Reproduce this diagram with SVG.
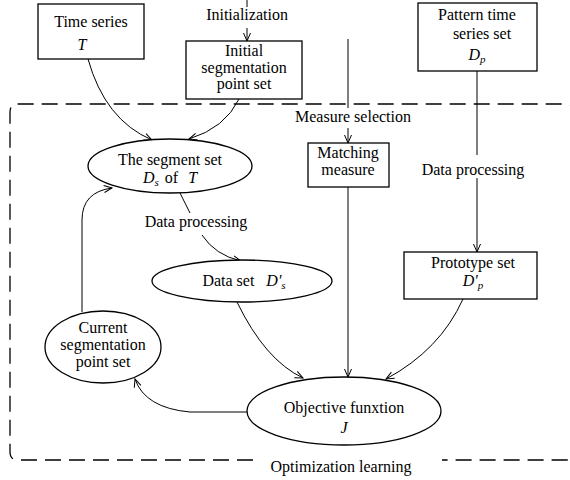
<svg xmlns="http://www.w3.org/2000/svg" width="570" height="480" viewBox="0 0 570 480" font-family="'Liberation Serif', 'Times New Roman', 'DejaVu Serif', serif">
<defs>
<marker id="arr" markerWidth="10" markerHeight="10" refX="9" refY="5" orient="auto" markerUnits="userSpaceOnUse">
<path d="M1,1.5 L9,5 L1,8.5" fill="none" stroke="#000" stroke-width="1"/>
</marker>
</defs>
<style>
text{font-family:'Liberation Serif','Times New Roman','DejaVu Serif',serif;font-size:16px;fill:#000;text-anchor:middle}
.i{font-style:italic}
.sub{font-size:11px;font-style:italic}
.box{fill:#fff;stroke:#000;stroke-width:1.3}
.c{fill:none;stroke:#000;stroke-width:1}
.ca{fill:none;stroke:#000;stroke-width:1;marker-end:url(#arr)}
.dash{fill:none;stroke:#000;stroke-width:1.3;stroke-dasharray:16 8}
</style>
<rect width="570" height="480" fill="#fff"/>
<g id="frame">
<path class="dash" d="M253,460 L18,460 Q10,460 10,452 L10,112 Q10,104 18,104 L566,104 Q574,104 574,112 L574,452 Q574,460 566,460 L442,460"/>
<text x="341" y="472">Optimization learning</text>
</g>
<g id="connectors">
<line class="c" x1="247" y1="0" x2="247" y2="7"/>
<text x="247" y="20">Initialization</text>
<line class="ca" x1="247" y1="28" x2="247" y2="41"/>
<path class="ca" d="M88,59 Q105,120 152,140"/>
<path class="ca" d="M239,99 Q225,128 189,139"/>
<line class="c" x1="348" y1="39" x2="348" y2="108"/>
<text x="353" y="122">Measure selection</text>
<line class="ca" x1="348" y1="128" x2="348" y2="143"/>
<line class="ca" x1="348" y1="187" x2="348" y2="377"/>
<line class="c" x1="477" y1="71" x2="477" y2="155"/>
<text x="473" y="175">Data processing</text>
<line class="ca" x1="477" y1="178" x2="477" y2="252"/>
<path class="c" d="M180,193 L190,213"/>
<text x="196" y="227">Data processing</text>
<path class="ca" d="M202,235 Q215,255 241,261"/>
<path class="ca" d="M237,302 Q265,360 303,378"/>
<path class="ca" d="M463,299 Q440,350 386,379"/>
<path class="ca" d="M247,412 L190,412 Q145,408 135,379"/>
<path class="ca" d="M82,312 L82,220 Q82,192 112,188"/>
</g>
<g id="time-series">
<rect class="box" x="38" y="4" width="106" height="55"/>
<text x="91" y="27">Time series</text>
<text class="i" x="82" y="50">T</text>
</g>
<g id="initial-seg">
<rect class="box" x="186" y="41" width="116" height="58"/>
<text x="244" y="56">Initial</text>
<text x="244" y="73">segmentation</text>
<text x="244" y="89">point set</text>
</g>
<g id="pattern">
<rect class="box" x="418" y="3" width="119" height="68"/>
<text x="477" y="20">Pattern time</text>
<text x="482" y="39">series set</text>
<text x="477" y="60"><tspan class="i">D</tspan><tspan class="sub" dy="3">p</tspan></text>
</g>
<g id="segment-set">
<ellipse class="box" cx="170" cy="166" rx="82" ry="27"/>
<text x="170" y="165">The segment set</text>
<text x="170" y="183"><tspan class="i">D</tspan><tspan class="sub" dy="3">s</tspan><tspan dy="-3" dx="6">of</tspan><tspan class="i" dx="10">T</tspan></text>
</g>
<g id="matching">
<rect class="box" x="308" y="143" width="81" height="44"/>
<text x="348" y="158">Matching</text>
<text x="348" y="175">measure</text>
</g>
<g id="data-set">
<ellipse class="box" cx="242" cy="281" rx="90" ry="21"/>
<text x="244" y="286">Data set<tspan class="i" dx="12">D'</tspan><tspan class="sub" dy="3">s</tspan></text>
</g>
<g id="prototype">
<rect class="box" x="404" y="252" width="133" height="47"/>
<text x="473" y="268">Prototype set</text>
<text x="473" y="286"><tspan class="i">D'</tspan><tspan class="sub" dy="3">p</tspan></text>
</g>
<g id="current">
<ellipse class="box" cx="103" cy="347" rx="58" ry="36"/>
<text x="103" y="333">Current</text>
<text x="103" y="350">segmentation</text>
<text x="103" y="367">point set</text>
</g>
<g id="objective">
<ellipse class="box" cx="344" cy="411" rx="97" ry="34"/>
<text x="344" y="413">Objective funxtion</text>
<text class="i" x="344" y="433">J</text>
</g>
</svg>
